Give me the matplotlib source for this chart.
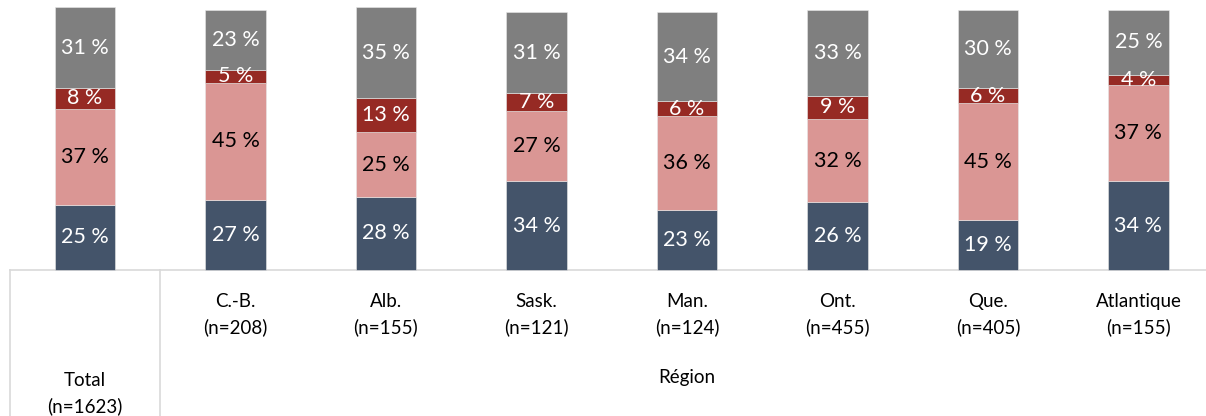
import matplotlib.pyplot as plt
import numpy as np

plt.rcParams['font.family'] = ['Lato', 'DejaVu Sans']

# données
categories = ['Total\n(n=1623)', 'C.-B.\n(n=208)', 'Alb.\n(n=155)', 'Sask.\n(n=121)',
              'Man.\n(n=124)', 'Ont.\n(n=455)', 'Que.\n(n=405)', 'Atlantique\n(n=155)']
serie1 = [25, 27, 28, 34, 23, 26, 19, 34]   # bleu foncé
serie2 = [37, 45, 25, 27, 36, 32, 45, 37]   # rose
serie3 = [8, 5, 13, 7, 6, 9, 6, 4]          # rouge foncé
serie4 = [31, 23, 35, 31, 34, 33, 30, 25]   # gris
groupe = 'Région'

couleurs = ['#44546A', '#DA9694', '#962A24', '#7F7F7F']
couleurs_txt = ['white', 'black', 'white', 'white']

fig = plt.figure(figsize=(12.06, 4.16), dpi=100)
ax = fig.add_axes([0, 0, 1, 1])

x = np.arange(len(categories))
bas = np.zeros(len(categories))
for vals, c, ct in zip([serie1, serie2, serie3, serie4], couleurs, couleurs_txt):
    vals = np.array(vals)
    ax.bar(x, vals, 0.4, bottom=bas, color=c, edgecolor='#e8e8e8', linewidth=0.4, zorder=2)
    for xi, b, v in zip(x, bas, vals):
        ax.text(xi, b + v / 2, f'{v} %', ha='center', va='center', color=ct, fontsize=15.5, zorder=3)
    bas = bas + vals

ax.set_xlim(-0.565, 7.449)
ax.set_ylim(-56.2, 103.8)
ax.axis('off')

# lignes du tableau
gris = '#d9d9d9'
ax.plot([-0.5, 7.449], [0, 0], color=gris, lw=1.2, zorder=1)
ax.plot([-0.5, -0.5], [0, -56.2], color=gris, lw=1.2)
ax.plot([0.5, 0.5], [0, -56.2], color=gris, lw=1.2)

# étiquettes
ax.text(x[0], -47.5, categories[0], ha='center', va='center', fontsize=13.5, linespacing=1.55)
for xi, lab in zip(x[1:], categories[1:]):
    ax.text(xi, -17.3, lab, ha='center', va='center', fontsize=13.5, linespacing=1.55)
ax.text(x[1:].mean(), -41.5, groupe, ha='center', va='center', fontsize=13.5)

fig.savefig('out.png', dpi=100)
